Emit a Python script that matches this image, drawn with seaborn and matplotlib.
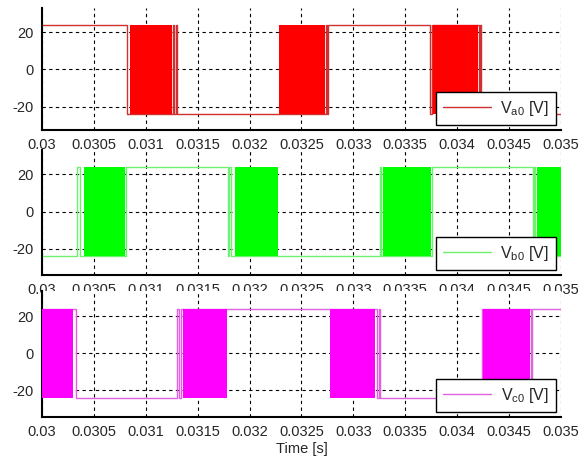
import numpy as np
import pandas as pd
import matplotlib
matplotlib.use("Agg")
import matplotlib.pyplot as plt
import seaborn as sns

# Schaltzeitpunkte (Stufenverlauf, steps-post) und PWM-Bursts je Phase
a_times = [0.03000, 0.03082, 0.03126, 0.03127, 0.03129, 0.03130, 0.03274, 0.03275, 0.03276,
           0.03374, 0.03376, 0.03421, 0.03422, 0.03423, 0.03500]
a_levels = [24, -24, 24, -24, 24, -24, 24, -24, 24, -24, 24, -24, 24, -24, -24]
a_bursts = [(0.03085, 0.03125), (0.03228, 0.03273), (0.03377, 0.03420)]

b_times = [0.03000, 0.03034, 0.03037, 0.03081, 0.03179, 0.03180, 0.03182, 0.03228,
           0.03326, 0.03327, 0.03376, 0.03473, 0.03474, 0.03475, 0.03500]
b_levels = [-24, 24, -24, 24, -24, 24, -24, -24, 24, -24, 24, -24, 24, -24, -24]
b_bursts = [(0.03040, 0.03080), (0.03186, 0.03227), (0.03329, 0.03375), (0.03477, 0.03500)]

c_times = [0.03000, 0.03031, 0.03033, 0.03130, 0.03132, 0.03134, 0.03179, 0.03322,
           0.03323, 0.03325, 0.03326, 0.03424, 0.03471, 0.03472, 0.03500]
c_levels = [24, 24, -24, 24, -24, 24, 24, 24, -24, 24, -24, 24, -24, 24, 24]
c_bursts = [(0.03000, 0.03030), (0.03136, 0.03178), (0.03277, 0.03321), (0.03425, 0.03470)]

labels = ["V$_{\\mathregular{a0}}$ [V]", "V$_{\\mathregular{b0}}$ [V]", "V$_{\\mathregular{c0}}$ [V]"]
colors = ["#ff0000", "#00ff00", "#ff00ff"]
line_colors = ["#d03030", "#70f070", "#e060e0"]
xticks = [0.03, 0.0305, 0.031, 0.0315, 0.032, 0.0325, 0.033, 0.0335, 0.034, 0.0345, 0.035]
xtick_labels = ["0.03", "0.0305", "0.031", "0.0315", "0.032", "0.0325", "0.033",
                "0.0335", "0.034", "0.0345", "0.035"]
yticks = [-20, 0, 20]

sns.set_theme(style="white")
plt.rcParams['font.family'] = ['Liberation Sans', 'DejaVu Sans']
plt.rcParams['mathtext.fontset'] = 'custom'
plt.rcParams['mathtext.rm'] = 'Liberation Sans'
plt.rcParams['axes.unicode_minus'] = False

fig = plt.figure(figsize=(5.84, 4.58), dpi=100)
positions = [
    [0.0719, 0.7162, 0.8887, 0.2664],
    [0.0719, 0.3996, 0.8887, 0.2729],
    [0.0719, 0.0895, 0.8887, 0.2751],
]
ylims = [(-32.5, 33), (-34, 33), (-34.5, 33.5)]

phases = [(a_times, a_levels, a_bursts), (b_times, b_levels, b_bursts), (c_times, c_levels, c_bursts)]

for i, (times, levels, bursts) in enumerate(phases):
    ax = fig.add_axes(positions[i])
    df = pd.DataFrame({"t": times, "v": levels})
    sns.lineplot(data=df, x="t", y="v", ax=ax, estimator=None, sort=False,
                 drawstyle="steps-post", color=line_colors[i], lw=1.0, label=labels[i])
    # dichte PWM-Bereiche als gefüllte Blöcke
    for start, end in bursts:
        ax.fill_between([start, end], -24, 24, color=colors[i], lw=0, zorder=3)

    ax.set_xlim(0.03, 0.035)
    ax.set_ylim(*ylims[i])
    ax.set_xticks(xticks)
    ax.set_xticklabels(xtick_labels)
    ax.set_yticks(yticks)
    ax.set_xlabel("")
    ax.set_ylabel("")
    ax.grid(True, color="black", linestyle=(0, (3, 3)), lw=0.8)
    ax.tick_params(labelsize=10.5, direction="in", length=4, color="black", pad=6)
    for side in ["top", "right"]:
        ax.spines[side].set_visible(False)
    for side in ["left", "bottom"]:
        ax.spines[side].set_color("black")
        ax.spines[side].set_linewidth(1.5)
    leg = ax.legend(loc="lower right", fontsize=11.5, frameon=True, fancybox=False,
                    framealpha=1, edgecolor="black", handlelength=3.0,
                    handletextpad=0.6, borderpad=0.45, borderaxespad=0.3)
    leg.get_frame().set_linewidth(1.0)
    leg.set_zorder(10)

    if i == 2:
        ax.set_xlabel("Time [s]", fontsize=10.5, labelpad=2)

fig.savefig("out.png", dpi=100)
